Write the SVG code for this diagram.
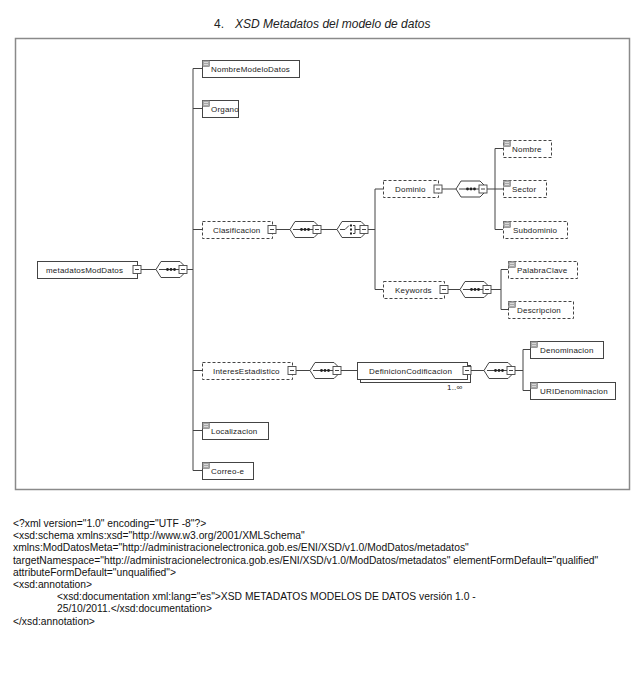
<svg xmlns="http://www.w3.org/2000/svg" xmlns:xlink="http://www.w3.org/1999/xlink" width="642" height="688" viewBox="0 0 642 688">
<style>
.bg{fill:#fff}
.frame{fill:none;stroke:#8a8a8a;stroke-width:1.5}
.el{fill:#fff;stroke:#444;stroke-width:1}
.opt{fill:#fff;stroke:#444;stroke-width:1;stroke-dasharray:3,2}
.lbl{font-family:"Liberation Sans",Arial,sans-serif;font-size:8px;letter-spacing:0.2px;fill:#222}
.ln{stroke:#444;stroke-width:1;fill:none}
.mb{fill:#fff;stroke:#444;stroke-width:0.9}
.comp{fill:#fff;stroke:#444;stroke-width:1}
.doc{font-family:"Liberation Sans",Arial,sans-serif;font-size:10.3px;fill:#111}
.title{font-family:"Liberation Sans",Arial,sans-serif;font-size:12px;fill:#222}
</style>
<defs>
<g id="minus"><rect class="mb" x="-4" y="-4" width="8" height="8"/><line class="ln" x1="-2" y1="0" x2="2" y2="0"/></g>
<g id="seq">
<path class="comp" d="M0,0 L5,-8 L24,-8 L28,-4 L28,4 L24,8 L5,8 Z"/>
<line class="ln" x1="3" y1="0" x2="23" y2="0"/>
<circle cx="11.5" cy="0" r="1.4" fill="#222"/><circle cx="15" cy="0" r="1.4" fill="#222"/><circle cx="18.5" cy="0" r="1.4" fill="#222"/>
<use xlink:href="#minus" href="#minus" x="27" y="0"/>
</g>
<g id="choice">
<path class="comp" d="M0,0 L5,-8 L24,-8 L28,-4 L28,4 L24,8 L5,8 Z"/>
<polyline class="ln" points="3,0 8,0 12,-4"/>
<rect x="13" y="-5" width="2" height="2" fill="#222"/><rect x="13" y="-1" width="2" height="2" fill="#222"/><rect x="13" y="3" width="2" height="2" fill="#222"/>
<polyline class="ln" points="16,-4 18,-4 18,4 16,4"/>
<line class="ln" x1="18" y1="0" x2="23" y2="0"/>
<use xlink:href="#minus" href="#minus" x="27" y="0"/>
</g>
<g id="ico"><rect x="0" y="0" width="7" height="6" fill="#a8a8a8" stroke="#666" stroke-width="0.5"/><line x1="1.5" y1="2" x2="5.5" y2="2" stroke="#eee" stroke-width="0.7"/><line x1="1.5" y1="4" x2="5.5" y2="4" stroke="#eee" stroke-width="0.7"/></g>
</defs>
<rect class="bg" x="0" y="0" width="642" height="688"/>
<text class="title" x="214" y="28">4.</text>
<text class="title" x="235" y="28" font-style="italic">XSD Metadatos del modelo de datos</text>
<rect class="frame" x="15.5" y="38.5" width="614" height="451"/>

<g id="connectors">
<line class="ln" x1="141" y1="269.5" x2="156" y2="269.5"/>
<line class="ln" x1="187" y1="269.5" x2="193" y2="269.5"/>
<line class="ln" x1="193" y1="68.5" x2="193" y2="470.5"/>
<line class="ln" x1="193" y1="68.5" x2="202" y2="68.5"/>
<line class="ln" x1="193" y1="108.5" x2="202" y2="108.5"/>
<line class="ln" x1="193" y1="229.5" x2="202" y2="229.5"/>
<line class="ln" x1="193" y1="370.5" x2="202" y2="370.5"/>
<line class="ln" x1="193" y1="430.5" x2="202" y2="430.5"/>
<line class="ln" x1="193" y1="470.5" x2="202" y2="470.5"/>
<line class="ln" x1="276" y1="229.5" x2="290" y2="229.5"/>
<line class="ln" x1="321" y1="229.5" x2="337" y2="229.5"/>
<line class="ln" x1="368" y1="229.5" x2="375" y2="229.5"/>
<line class="ln" x1="375" y1="189" x2="375" y2="289.5"/>
<line class="ln" x1="375" y1="189" x2="383" y2="189"/>
<line class="ln" x1="375" y1="289.5" x2="383" y2="289.5"/>
<line class="ln" x1="442" y1="189" x2="456" y2="189"/>
<line class="ln" x1="487" y1="189" x2="495" y2="189"/>
<line class="ln" x1="495" y1="148.5" x2="495" y2="229.5"/>
<line class="ln" x1="495" y1="148.5" x2="503" y2="148.5"/>
<line class="ln" x1="495" y1="189" x2="503" y2="189"/>
<line class="ln" x1="495" y1="229.5" x2="503" y2="229.5"/>
<line class="ln" x1="448" y1="289.5" x2="460" y2="289.5"/>
<line class="ln" x1="491" y1="289.5" x2="501" y2="289.5"/>
<line class="ln" x1="501" y1="269.5" x2="501" y2="309.5"/>
<line class="ln" x1="501" y1="269.5" x2="508" y2="269.5"/>
<line class="ln" x1="501" y1="309.5" x2="508" y2="309.5"/>
<line class="ln" x1="296" y1="370.5" x2="310" y2="370.5"/>
<line class="ln" x1="341" y1="370.5" x2="357" y2="370.5"/>
<line class="ln" x1="471" y1="370.5" x2="484" y2="370.5"/>
<line class="ln" x1="515" y1="370.5" x2="523" y2="370.5"/>
<line class="ln" x1="523" y1="349.5" x2="523" y2="390.5"/>
<line class="ln" x1="523" y1="349.5" x2="530" y2="349.5"/>
<line class="ln" x1="523" y1="390.5" x2="530" y2="390.5"/>
</g>

<g id="seq-root"><use xlink:href="#seq" href="#seq" x="156" y="269.5"/></g>
<g id="seq-clasificacion"><use xlink:href="#seq" href="#seq" x="290" y="229.5"/></g>
<g id="choice-clasificacion"><use xlink:href="#choice" href="#choice" x="337" y="229.5"/></g>
<g id="seq-dominio"><use xlink:href="#seq" href="#seq" x="456" y="189"/></g>
<g id="seq-keywords"><use xlink:href="#seq" href="#seq" x="460" y="289.5"/></g>
<g id="seq-interes"><use xlink:href="#seq" href="#seq" x="310" y="370.5"/></g>
<g id="seq-definicion"><use xlink:href="#seq" href="#seq" x="484" y="370.5"/></g>

<g id="metadatosModDatos"><rect class="el" x="37.5" y="261.5" width="100" height="17"/><text class="lbl" x="46" y="272.5">metadatosModDatos</text><use xlink:href="#minus" href="#minus" x="137" y="269.5"/></g>
<g id="NombreModeloDatos"><rect class="el" x="202.5" y="60.5" width="97" height="17"/><use xlink:href="#ico" href="#ico" x="202.5" y="60.5"/><text class="lbl" x="211" y="71.5">NombreModeloDatos</text></g>
<g id="Organo"><rect class="el" x="202.5" y="100.5" width="36" height="17"/><use xlink:href="#ico" href="#ico" x="202.5" y="100.5"/><text class="lbl" x="211" y="111.5">Organo</text></g>
<g id="Clasificacion"><rect class="opt" x="202.5" y="221.5" width="70" height="17"/><text class="lbl" x="213" y="232.5">Clasificacion</text><use xlink:href="#minus" href="#minus" x="272" y="229.5"/></g>
<g id="Dominio"><rect class="opt" x="383.5" y="180.5" width="55" height="17"/><text class="lbl" x="395" y="192">Dominio</text><use xlink:href="#minus" href="#minus" x="438" y="189"/></g>
<g id="Nombre"><rect class="opt" x="503.5" y="140.5" width="48" height="17"/><use xlink:href="#ico" href="#ico" x="503.5" y="140.5"/><text class="lbl" x="512" y="151.5">Nombre</text></g>
<g id="Sector"><rect class="opt" x="503.5" y="180.5" width="43" height="17"/><use xlink:href="#ico" href="#ico" x="503.5" y="180.5"/><text class="lbl" x="512" y="192">Sector</text></g>
<g id="Subdominio"><rect class="opt" x="503.5" y="221.5" width="64" height="17"/><use xlink:href="#ico" href="#ico" x="503.5" y="221.5"/><text class="lbl" x="513" y="232.5">Subdominio</text></g>
<g id="Keywords"><rect class="opt" x="383.5" y="281.5" width="61" height="17"/><text class="lbl" x="395" y="292.5">Keywords</text><use xlink:href="#minus" href="#minus" x="444" y="289.5"/></g>
<g id="PalabraClave"><rect class="opt" x="508.5" y="261.5" width="69" height="17"/><use xlink:href="#ico" href="#ico" x="508.5" y="261.5"/><text class="lbl" x="517" y="272.5">PalabraClave</text></g>
<g id="Descripcion"><rect class="opt" x="508.5" y="301.5" width="65" height="17"/><use xlink:href="#ico" href="#ico" x="508.5" y="301.5"/><text class="lbl" x="517" y="312.5">Descripcion</text></g>
<g id="InteresEstadistico"><rect class="opt" x="202.5" y="362.5" width="90" height="17"/><text class="lbl" x="213" y="373.5">InteresEstadistico</text><use xlink:href="#minus" href="#minus" x="292" y="370.5"/></g>
<g id="DefinicionCodificacion"><rect class="el" x="360.5" y="365.5" width="110" height="17"/><rect class="el" x="357.5" y="362.5" width="110" height="17"/><text class="lbl" x="369" y="373.5">DefinicionCodificacion</text><use xlink:href="#minus" href="#minus" x="467" y="370.5"/><text class="lbl" x="447" y="390" font-size="7">1..∞</text></g>
<g id="Denominacion"><rect class="el" x="530.5" y="341.5" width="73" height="17"/><use xlink:href="#ico" href="#ico" x="530.5" y="341.5"/><text class="lbl" x="540" y="352.5">Denominacion</text></g>
<g id="URIDenominacion"><rect class="el" x="530.5" y="382.5" width="85" height="17"/><use xlink:href="#ico" href="#ico" x="530.5" y="382.5"/><text class="lbl" x="540" y="393.5">URIDenominacion</text></g>
<g id="Localizacion"><rect class="el" x="202.5" y="422.5" width="66" height="17"/><use xlink:href="#ico" href="#ico" x="202.5" y="422.5"/><text class="lbl" x="211" y="433.5">Localizacion</text></g>
<g id="Correo-e"><rect class="el" x="202.5" y="462.5" width="51" height="17"/><use xlink:href="#ico" href="#ico" x="202.5" y="462.5"/><text class="lbl" x="211" y="473.5">Correo-e</text></g>

<g id="schema-text">
<text class="doc" x="13" y="527">&lt;?xml version="1.0" encoding="UTF -8"?&gt;</text>
<text class="doc" x="13" y="539.2">&lt;xsd:schema xmlns:xsd="http://www.w3.org/2001/XMLSchema"</text>
<text class="doc" x="13" y="551.4">xmlns:ModDatosMeta="http://administracionelectronica.gob.es/ENI/XSD/v1.0/ModDatos/metadatos"</text>
<text class="doc" x="13" y="563.6">targetNamespace="http://administracionelectronica.gob.es/ENI/XSD/v1.0/ModDatos/metadatos" elementFormDefault="qualified"</text>
<text class="doc" x="13" y="575.8">attributeFormDefault="unqualified"&gt;</text>
<text class="doc" x="13" y="588">&lt;xsd:annotation&gt;</text>
<text class="doc" x="57" y="600.2">&lt;xsd:documentation xml:lang="es"&gt;XSD METADATOS MODELOS DE DATOS versión 1.0 -</text>
<text class="doc" x="57" y="612.4">25/10/2011.&lt;/xsd:documentation&gt;</text>
<text class="doc" x="13" y="624.6">&lt;/xsd:annotation&gt;</text>
</g>
</svg>
